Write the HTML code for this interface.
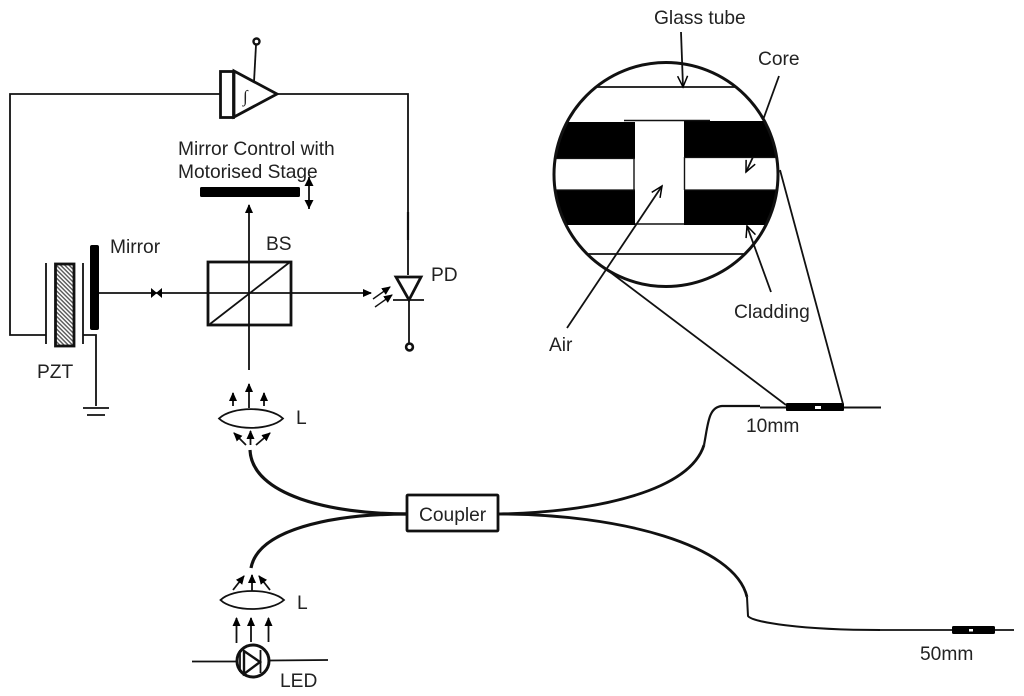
<!DOCTYPE html>
<html><head><meta charset="utf-8"><style>
html,body{margin:0;padding:0;background:#fff}
svg{display:block}
text{font-family:"Liberation Sans",sans-serif;font-size:19.2px;fill:#222}
</style></head><body>
<svg width="1024" height="696" viewBox="0 0 1024 696" xmlns="http://www.w3.org/2000/svg">
<defs>
<pattern id="h" width="3" height="3" patternUnits="userSpaceOnUse" patternTransform="rotate(45)"><rect width="3" height="3" fill="#fff"/><rect width="3" height="1.4" fill="#555"/></pattern>
<clipPath id="c"><circle cx="666" cy="174.5" r="112"/></clipPath>
<marker id="a" markerWidth="10" markerHeight="10" refX="8" refY="4" orient="auto" markerUnits="userSpaceOnUse"><path d="M0 0L9 4L0 8Z" fill="#000"/></marker>
<marker id="o" markerWidth="14" markerHeight="14" refX="12" refY="6" orient="auto" markerUnits="userSpaceOnUse"><path d="M1 1L12 6L1 11" fill="none" stroke="#000" stroke-width="1.5"/></marker>
</defs>
<g fill="none" stroke="#111" stroke-width="1.8">
<!-- feedback loop -->
<path d="M220 94H10V335H46"/>
<path d="M277 94H408V275"/>
<path d="M408 212V240" stroke-width="2.2"/>
<rect x="220.5" y="71.5" width="13" height="46" stroke-width="2.8"/>
<path d="M234 71L277 94L234 117Z" stroke-width="2.8" fill="#fff"/>
<path d="M256 45L254 82"/>
<circle cx="256.5" cy="41.5" r="3" stroke-width="2.4"/>
<!-- PZT and mirror -->
<path d="M46 263V344M83 263V344"/>
<rect x="55.5" y="264" width="18.5" height="82" fill="url(#h)" stroke-width="2.8"/>
<rect x="90" y="245" width="9" height="85" rx="2" fill="#000" stroke="none"/>
<path d="M83 335H96V406"/>
<path d="M83 408H109M87 415H105"/>
<!-- beam -->
<path d="M99 293H371" marker-end="url(#a)"/>
<path d="M151 288L157 293L151 298ZM162 288L156 293L162 298Z" fill="#000" stroke="none"/>
<rect x="208" y="262" width="83" height="63" stroke-width="2.8"/>
<path d="M210 324L290 262"/>
<path d="M249 370V205" marker-end="url(#a)"/>
<rect x="200" y="187" width="100" height="10" rx="1.5" fill="#000" stroke="none"/>
<path d="M309 177V209"/>
<path d="M309 177L304.5 186H313.5ZM309 209L304.5 200H313.5Z" fill="#000" stroke="none"/>
<!-- photodiode -->
<path d="M396 277H421L409 300Z" stroke-width="2.8"/>
<path d="M393 300H424"/>
<path d="M409 300V343"/>
<circle cx="409.5" cy="347" r="3.4" stroke-width="2.6"/>
<path d="M373 299L390 287" marker-end="url(#a)" stroke-width="1.4"/>
<path d="M375 307L392 295" marker-end="url(#a)" stroke-width="1.4"/>
<!-- upper lens -->
<path d="M219 418.500C232 406 270 406 283 418.500C270 431 232 431 219 418.500Z"/>
<path d="M249 408V384" marker-end="url(#a)"/>
<path d="M233 406V393" marker-end="url(#a)"/>
<path d="M264 406V393" marker-end="url(#a)"/>
<path d="M246 445L234 433" marker-end="url(#a)"/>
<path d="M250.500 445V431" marker-end="url(#a)"/>
<path d="M256 445L270 433" marker-end="url(#a)"/>
<!-- fibres -->
<path d="M250 450C252 495 330 514 407 514" stroke-width="3.2"/>
<path d="M251 568C258 530 330 514 407 514" stroke-width="3.2"/>
<rect x="407" y="495" width="91" height="36" rx="1" stroke-width="2.800"/>
<path d="M498 514C600 512 690 490 704 445" stroke-width="2.800"/>
<path d="M704 445C708 425 708 407 722 406L760 406" stroke-width="2.200"/>
<path d="M760 407.500H881" stroke-width="2"/>
<path d="M498 514C620 514 735 545 747 597" stroke-width="2.800"/>
<path d="M747 597L748 616C752 622 800 630 880 630" stroke-width="2"/>
<path d="M880 630H1014" stroke-width="1.800"/>
<!-- sensor heads -->
<rect x="786" y="403" width="58" height="8" rx="1" fill="#000" stroke="none"/>
<rect x="815" y="406" width="6" height="3" fill="#fff" stroke="none"/>
<rect x="952" y="626" width="43" height="8" rx="1.500" fill="#000" stroke="none"/>
<rect x="969" y="629" width="4" height="2.500" fill="#fff" stroke="none"/>
<!-- lower lens -->
<path d="M220.500 600C233 588 271 588 284 600C271 612 233 612 220.500 600Z"/>
<path d="M233 590L244 576" marker-end="url(#a)"/>
<path d="M252 591V575" marker-end="url(#a)"/>
<path d="M270 590L259 576" marker-end="url(#a)"/>
<path d="M236.500 643V618" marker-end="url(#a)"/>
<path d="M251 642V618" marker-end="url(#a)"/>
<path d="M268.500 642V618" marker-end="url(#a)"/>
<!-- LED -->
<circle cx="253" cy="661" r="16" stroke-width="3"/>
<path d="M244 651L260 662L244 674Z" stroke-width="2.400"/>
<path d="M240 650V672M260.500 650V673" stroke-width="1.800"/>
<path d="M192 661.500H236M270 660.500L328 660"/>
<!-- magnified view -->
<g clip-path="url(#c)">
<rect x="540" y="122" width="95" height="37" fill="#000" stroke="none"/>
<rect x="684" y="121" width="110" height="36" fill="#000" stroke="none"/>
<rect x="540" y="190" width="95" height="35" fill="#000" stroke="none"/>
<rect x="684" y="190" width="110" height="35" fill="#000" stroke="none"/>
<path d="M540 87H800M540 254H800" stroke-width="1.800"/>
<path d="M540 158.500H635M684 157.500H790M550 190H635M684 190H790" stroke-width="1.200"/>
<path d="M624 120.500H710M634 159V190M684.500 157V190M635 224H684" stroke-width="1.400"/>
</g>
<circle cx="666" cy="174.500" r="112" stroke-width="3"/>
<path d="M681 32L683 87" marker-end="url(#o)"/>
<path d="M779 76L763 120"/>
<path d="M753 157L746 172" marker-end="url(#o)"/>
<path d="M771 292L747 226" marker-end="url(#o)"/>
<path d="M567 328L662 186" marker-end="url(#o)"/>
<path d="M610 272L786 405"/>
<path d="M780 170L843 404"/>
</g>
<text x="243" y="102" style="font-family:'Liberation Serif',serif;font-size:17px;font-style:italic">∫</text>
<text x="178" y="155">Mirror Control with</text>
<text x="178" y="178">Motorised Stage</text>
<text x="110" y="253">Mirror</text>
<text x="266" y="250">BS</text>
<text x="431" y="281">PD</text>
<text x="37" y="378">PZT</text>
<text x="296" y="424">L</text>
<text x="297" y="609">L</text>
<text x="419" y="521">Coupler</text>
<text x="280" y="687">LED</text>
<text x="746" y="432">10mm</text>
<text x="920" y="660">50mm</text>
<text x="654" y="24">Glass tube</text>
<text x="758" y="65">Core</text>
<text x="734" y="318">Cladding</text>
<text x="549" y="351">Air</text>
</svg>
</body></html>
